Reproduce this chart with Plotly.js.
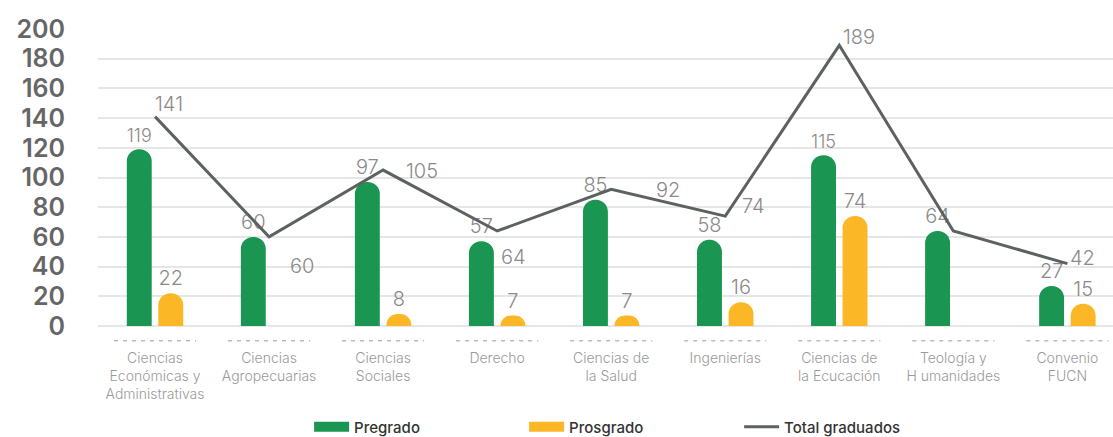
<!DOCTYPE html>
<html>
<head>
<meta charset="utf-8">
<script src="https://cdn.plot.ly/plotly-3.0.1.min.js"></script>
<style>html,body{margin:0;padding:0;background:#fff;}#chart{width:1113px;height:437px;}</style>
</head>
<body>
<div id="chart"></div>
<script>
const categories = [
  "Ciencias<br>Económicas y<br>Administrativas",
  "Ciencias<br>Agropecuarias",
  "Ciencias<br>Sociales",
  "Derecho",
  "Ciencias de<br>la Salud",
  "Ingenierías",
  "Ciencias de<br>la Ecucación",
  "Teología y<br>H umanidades",
  "Convenio<br>FUCN"
];
const pregrado = [119, 60, 97, 57, 85, 58, 115, 64, 27];
const posgrado = [22, null, 8, 7, 7, 16, 74, null, 15];
const total = [141, 60, 105, 64, 92, 74, 189, 64, 42];
const showTotalLabel = [true, true, true, true, true, true, true, false, true];
const yTicks = [0, 20, 40, 60, 80, 100, 120, 140, 160, 180, 200];

const GREEN = "#1a9652", YELLOW = "#fbb726", GREY = "#5d6160";
const idx = categories.map((_, i) => i);
const FONT = "Inter, 'Open Sans', sans-serif";
const labelFont = {family: FONT, size: 20, color: "#8a8a8a", weight: 300};

// label offsets (pixels) for the total line labels, styling only
const totalLabelShift = [[14, 13], [33, -29], [39, -1], [16, -26], [57, -1], [28, 10], [20, 8], [0, 0], [15, 6]];

const traces = [
  {
    type: "bar", name: "Pregrado", x: idx, y: pregrado, showlegend: false,
    marker: {color: GREEN},
    text: pregrado.map(String), textposition: "outside", textfont: labelFont,
    cliponaxis: false
  },
  {
    type: "bar", name: "Prosgrado", x: idx, y: posgrado, showlegend: false,
    marker: {color: YELLOW},
    text: posgrado.map(v => v == null ? "" : String(v)), textposition: "outside", textfont: labelFont,
    cliponaxis: false
  },
  {
    type: "scatter", mode: "lines", name: "Total graduados", x: idx, y: total, showlegend: false,
    line: {color: GREY, width: 3}, cliponaxis: false
  },
  // legend entries
  {type: "scatter", mode: "lines", name: "Pregrado", x: [null], y: [null], line: {color: GREEN, width: 10}},
  {type: "scatter", mode: "lines", name: "Prosgrado", x: [null], y: [null], line: {color: YELLOW, width: 10}},
  {type: "scatter", mode: "lines", name: "Total graduados", x: [null], y: [null], line: {color: GREY, width: 3}}
];

const annotations = idx.filter(i => showTotalLabel[i]).map(i => ({
  x: i, y: total[i], xref: "x", yref: "y",
  text: String(total[i]), showarrow: false,
  xshift: totalLabelShift[i][0], yshift: totalLabelShift[i][1],
  font: labelFont
}));

const shapes = idx.map(i => ({
  type: "line", xref: "x", yref: "paper",
  x0: i - 0.36, x1: i + 0.36, y0: -0.05, y1: -0.05,
  line: {color: "#9a9a9a", width: 1, dash: "4px,5px"}
}));

const layout = {
  width: 1113, height: 437,
  margin: {l: 98, r: 0, t: 29, b: 111, autoexpand: false},
  paper_bgcolor: "#fff", plot_bgcolor: "#fff",
  barmode: "group", bargap: 0.447, bargroupgap: 0.21,
  barcornerradius: "50%",
  showlegend: true,
  legend: {
    orientation: "h", x: 0.208, xanchor: "left", y: -0.34, yanchor: "middle",
    font: {family: FONT, size: 15, color: "#333", weight: 500},
    entrywidth: 165, entrywidthmode: "pixels", itemwidth: 35
  },
  xaxis: {
    range: [-0.5, 8.4], tickmode: "array", tickvals: idx, ticktext: categories,
    showgrid: false, zeroline: false, showline: false, ticks: "",
    tickfont: {family: FONT, size: 14, color: "#9a9a9a", weight: 300},
    ticklabelstandoff: 22, fixedrange: true
  },
  yaxis: {
    range: [0, 200], tickmode: "array", tickvals: yTicks,
    showgrid: true, gridcolor: "#e6e6e6", gridwidth: 2,
    zeroline: true, zerolinecolor: "#e6e6e6", zerolinewidth: 2,
    showline: false, ticks: "",
    tickfont: {family: FONT, size: 25, color: "#666", weight: 600},
    ticklabelstandoff: 32, fixedrange: true
  },
  shapes: shapes,
  annotations: annotations,
  hovermode: false
};

Plotly.newPlot("chart", traces, layout, {displayModeBar: false, staticPlot: true});
</script>
</body>
</html>
